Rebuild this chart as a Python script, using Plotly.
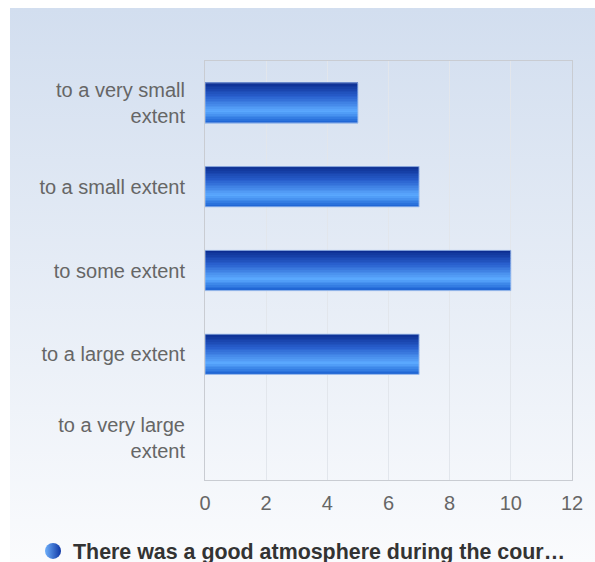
import base64
import plotly.graph_objects as go

categories = ["to a very small<br>extent", "to a small extent", "to some extent",
              "to a large extent", "to a very large<br>extent"]
values = [5, 7, 10, 7, 0]
x_ticks = [0, 2, 4, 6, 8, 10, 12]
series_name = "There was a good atmosphere during the cour\u2026"

# body margin is removed below, so figure coordinates equal page coordinates
W, H = 595, 562
L, T = 205, 61
R = W - 572
B = H - 480
pw, ph = W - L - R, H - T - B

stops = [(0.0, (10, 42, 140)), (0.35, (40, 95, 205)), (0.72, (92, 170, 255)), (1.0, (28, 98, 210))]

def col(t):
    for (t0, c0), (t1, c1) in zip(stops[:-1], stops[1:]):
        if t0 <= t <= t1:
            f = (t - t0) / (t1 - t0)
            return "rgb(%d,%d,%d)" % tuple(round(a + (b - a) * f) for a, b in zip(c0, c1))
    return "rgb(%d,%d,%d)" % stops[-1][1]

fig = go.Figure()
bw = 0.48
N = 24
band = bw / N
for i in range(N):
    t = (i + 0.5) / N
    fig.add_trace(go.Bar(
        x=values, y=categories, orientation="h",
        width=band * 1.08, offset=-bw / 2 + i * band,
        marker=dict(color=col(t), line=dict(width=0)),
        showlegend=False, hoverinfo="skip"))
outline_vals = [v if v else None for v in values]
fig.add_trace(go.Bar(
    x=outline_vals, y=categories, orientation="h", width=bw, offset=-bw / 2,
    marker=dict(color="rgba(0,0,0,0)", line=dict(color="rgba(160,190,235,0.9)", width=1)),
    showlegend=False, name=series_name))
fig.add_trace(go.Scatter(
    x=[None], y=[None], mode="markers", name=series_name,
    marker=dict(symbol="circle", size=16, color="rgb(110,175,250)",
                gradient=dict(type="horizontal", color="rgb(15,55,165)"))))

svg = ('<svg xmlns="http://www.w3.org/2000/svg" width="100" height="100" preserveAspectRatio="none">'
       '<defs><linearGradient id="g" x1="0" y1="0" x2="0" y2="1">'
       '<stop offset="0" stop-color="#d2deef"/><stop offset="1" stop-color="#fafbfd"/>'
       '</linearGradient></defs><rect width="100" height="100" fill="url(#g)"/></svg>')
src = "data:image/svg+xml;base64," + base64.b64encode(svg.encode()).decode()

x0 = (10 - L) / pw
x1 = (W - L) / pw
y_top = 1 + (T - 8) / ph
y_bot = -B / ph
fig.add_layout_image(dict(source=src, xref="paper", yref="paper", x=x0, y=y_top,
                          sizex=x1 - x0, sizey=y_top - y_bot, sizing="stretch",
                          xanchor="left", yanchor="top", layer="below"))

fig.update_layout(
    width=W, height=H,
    margin=dict(l=L, r=R, t=T, b=B),
    paper_bgcolor="white", plot_bgcolor="rgba(0,0,0,0)",
    barmode="overlay",
    font=dict(family="Liberation Sans, Arial", size=20, color="#666666"),
    showlegend=True,
    legend=dict(orientation="h", x=33 / W, xanchor="left", xref="container",
                y=1 - 551 / H, yanchor="middle", yref="container",
                font=dict(size=21.4, color="#333333", family="Liberation Sans, Arial", weight="bold"),
                bgcolor="rgba(0,0,0,0)", itemsizing="trace"),
    xaxis=dict(range=[0, 12], tickvals=x_ticks, showgrid=True, gridcolor="#e2e6ec",
               gridwidth=1, zeroline=False, showline=True, linecolor="#c9ccd2",
               mirror=True, ticks="", ticklabelstandoff=5, fixedrange=True),
    yaxis=dict(categoryorder="array", categoryarray=categories, autorange="reversed",
               showgrid=False, showline=True, linecolor="#c9ccd2", mirror=True,
               ticks="", ticklabelstandoff=15, zeroline=False),
)

fig.write_html("out.html", config={"displayModeBar": False},
               post_script="document.body.style.margin='0';document.documentElement.style.overflow='hidden';")
